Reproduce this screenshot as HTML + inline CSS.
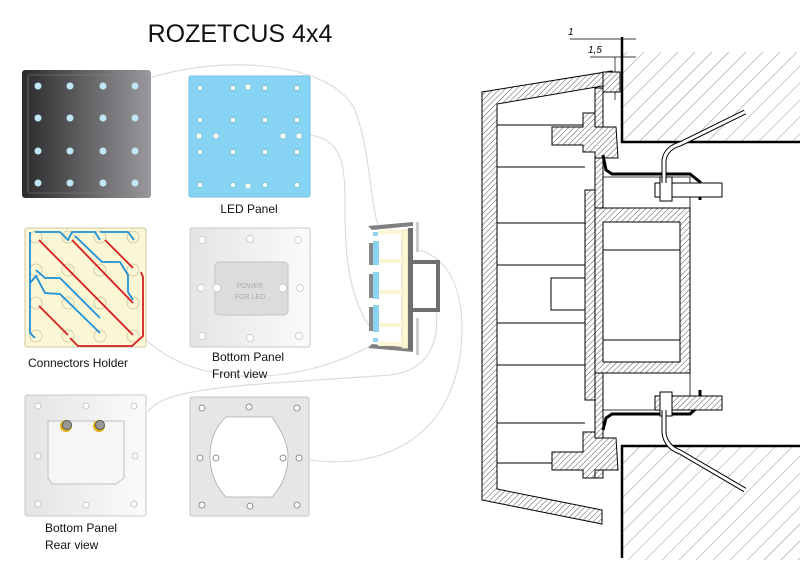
<!DOCTYPE html>
<html><head><meta charset="utf-8"><style>
html,body{margin:0;padding:0;background:#fff;}
svg{display:block;font-family:"Liberation Sans",Arial,sans-serif;}
</style></head><body>
<svg width="800" height="584" viewBox="0 0 800 584" xmlns="http://www.w3.org/2000/svg">
<defs>
<pattern id="h" width="4" height="4" patternUnits="userSpaceOnUse" patternTransform="rotate(45)">
<rect width="4" height="4" fill="#fff"/><line x1="0" y1="0" x2="0" y2="4" stroke="#555" stroke-width="1"/></pattern>
<pattern id="hw" width="12" height="12" patternUnits="userSpaceOnUse" patternTransform="rotate(45)">
<line x1="0" y1="0" x2="0" y2="12" stroke="#777" stroke-width="0.8"/></pattern>
<linearGradient id="dk" x1="0" x2="1"><stop offset="0" stop-color="#2b2b2d"/><stop offset="1" stop-color="#9a9a9e"/></linearGradient>
<linearGradient id="lg" x1="0" x2="1"><stop offset="0" stop-color="#e4e4e4"/><stop offset="1" stop-color="#fbfbfb"/></linearGradient>
</defs>

<text x="240" y="42" font-size="25" text-anchor="middle" fill="#111">ROZETCUS 4x4</text>

<!-- connector curves -->
<g fill="none" stroke="#dadada" stroke-width="1.1">
<path d="M150 78 C220 55 330 60 355 110 C370 150 370 200 378 225"/>
<path d="M310 135 C345 140 345 170 345 210 C345 260 350 300 372 330"/>
<path d="M146 340 C200 390 300 385 372 345"/>
<path d="M148 412 C165 385 260 385 390 375 C430 370 445 340 432 290"/>
<path d="M310 460 C380 470 460 440 462 330 C462 290 450 260 420 250"/>
</g>

<!-- dark panel -->
<rect x="22" y="70" width="129" height="128" rx="3" fill="url(#dk)"/>
<rect x="28" y="75" width="118" height="118" rx="2" fill="none" stroke="#888" stroke-width="0.6"/>
<g fill="#bfe6f7">
<circle cx="38" cy="86" r="3.5"/><circle cx="70" cy="86" r="3.5"/><circle cx="103" cy="86" r="3.5"/><circle cx="135" cy="86" r="3.5"/>
<circle cx="38" cy="118" r="3.5"/><circle cx="70" cy="118" r="3.5"/><circle cx="103" cy="118" r="3.5"/><circle cx="135" cy="118" r="3.5"/>
<circle cx="38" cy="151" r="3.5"/><circle cx="70" cy="151" r="3.5"/><circle cx="103" cy="151" r="3.5"/><circle cx="135" cy="151" r="3.5"/>
<circle cx="38" cy="183" r="3.5"/><circle cx="70" cy="183" r="3.5"/><circle cx="103" cy="183" r="3.5"/><circle cx="135" cy="183" r="3.5"/>
</g>

<!-- LED panel -->
<rect x="189" y="76" width="121" height="121" rx="2" fill="#87d3f3" stroke="#6cc0e6"/>
<g fill="#fff" stroke="#5aa" stroke-width="0.5">
<circle cx="200" cy="88" r="2.5"/><circle cx="233" cy="88" r="2.5"/><circle cx="248" cy="87" r="3"/><circle cx="265" cy="88" r="2.5"/><circle cx="297" cy="88" r="2.5"/>
<circle cx="200" cy="120" r="2.5"/><circle cx="233" cy="120" r="2.5"/><circle cx="265" cy="120" r="2.5"/><circle cx="297" cy="120" r="2.5"/>
<circle cx="199" cy="136" r="3"/><circle cx="216" cy="136" r="3"/><circle cx="283" cy="136" r="3"/><circle cx="299" cy="136" r="3"/>
<circle cx="200" cy="152" r="2.5"/><circle cx="233" cy="152" r="2.5"/><circle cx="265" cy="152" r="2.5"/><circle cx="297" cy="152" r="2.5"/>
<circle cx="200" cy="185" r="2.5"/><circle cx="233" cy="185" r="2.5"/><circle cx="248" cy="186" r="3"/><circle cx="265" cy="185" r="2.5"/><circle cx="297" cy="185" r="2.5"/>
</g>
<text x="249" y="213" font-size="12" text-anchor="middle" fill="#111">LED Panel</text>

<!-- Connectors holder -->
<rect x="25" y="228" width="121" height="119" rx="2" fill="#fbf6d3" stroke="#cfc9a5"/>
<g fill="none" stroke="#c9c2a0" stroke-width="0.8">
<circle cx="36" cy="237" r="6"/><circle cx="68" cy="237" r="6"/><circle cx="100" cy="237" r="6"/><circle cx="133" cy="237" r="6"/>
<circle cx="36" cy="270" r="6"/><circle cx="68" cy="270" r="6"/><circle cx="100" cy="270" r="6"/><circle cx="133" cy="270" r="6"/>
<circle cx="36" cy="303" r="6"/><circle cx="68" cy="303" r="6"/><circle cx="100" cy="303" r="6"/><circle cx="133" cy="303" r="6"/>
<circle cx="36" cy="336" r="6"/><circle cx="68" cy="336" r="6"/><circle cx="100" cy="336" r="6"/><circle cx="133" cy="336" r="6"/>
</g>
<g fill="none" stroke-width="1.8">
<path d="M39 240 L133 335 M72 240 L133 303 M105 240 L133 268 M141 272 L143 277 L143 336 L132 346 L78 346 L70 338 M39 306 L68 335" stroke="#d42020"/>
<path d="M30 232 L30 333 L35 338 M35 232 L60 232 L68 240 L72 232 L95 232 L100 240 M100 232 L128 232 L134 240 M75 236 L102 262 L120 262 L128 275 L128 292 L133 300 M30 283 L36 276 L45 293 L60 294 L100 333 M36 270 L45 278 L60 278 L100 318" stroke="#1f90d8"/>
</g>
<text x="28" y="367" font-size="12" fill="#111">Connectors Holder</text>

<!-- Bottom panel front -->
<rect x="190" y="228" width="120" height="119" rx="2" fill="url(#lg)" stroke="#c8c8c8"/>
<rect x="215" y="262" width="73" height="53" rx="4" fill="#dcdcdc" stroke="#c4c4c4"/>
<g fill="#fff" stroke="#c4c4c4" stroke-width="0.8">
<circle cx="202" cy="240" r="3.5"/><circle cx="250" cy="239" r="3.5"/><circle cx="298" cy="240" r="3.5"/>
<circle cx="201" cy="288" r="3.5"/><circle cx="217" cy="288" r="4"/><circle cx="283" cy="288" r="4"/><circle cx="300" cy="288" r="3.5"/>
<circle cx="202" cy="336" r="3.5"/><circle cx="250" cy="338" r="3.5"/><circle cx="299" cy="336" r="3.5"/>
</g>
<text x="250" y="288" font-size="7" text-anchor="middle" fill="#aaa">POWER</text>
<text x="250" y="299" font-size="7" text-anchor="middle" fill="#aaa">FOR LED</text>
<text x="212" y="361" font-size="12" fill="#111">Bottom Panel</text>
<text x="212" y="378" font-size="12" fill="#111">Front view</text>

<!-- Bottom panel rear -->
<rect x="25" y="395" width="121" height="121" rx="2" fill="url(#lg)" stroke="#c8c8c8"/>
<path d="M48 421 L124 421 L124 478 L116 484 L52 484 L48 478 Z" fill="#f6f6f6" stroke="#c0c0c0"/>
<g fill="#fff" stroke="#bbb" stroke-width="0.8">
<circle cx="38" cy="406" r="3"/><circle cx="86" cy="406" r="3"/><circle cx="134" cy="406" r="3"/>
<circle cx="38" cy="456" r="3"/><circle cx="135" cy="456" r="3"/>
<circle cx="38" cy="504" r="3"/><circle cx="86" cy="505" r="3"/><circle cx="134" cy="504" r="3"/>
</g>
<circle cx="66" cy="426" r="6" fill="#e2b21b"/><circle cx="67" cy="425" r="4.5" fill="#999" stroke="#555"/>
<circle cx="99" cy="426" r="6" fill="#e2b21b"/><circle cx="100" cy="425" r="4.5" fill="#999" stroke="#555"/>
<text x="45" y="532" font-size="12" fill="#111">Bottom Panel</text>
<text x="45" y="549" font-size="12" fill="#111">Rear view</text>

<!-- plate right -->
<rect x="190" y="397" width="119" height="119" rx="2" fill="#e6e6e6" stroke="#c4c4c4"/>
<path d="M226 417 L272 417 Q288 440 288 456 Q288 480 272 497 L226 497 Q210 480 210 456 Q210 432 226 417 Z" fill="#fff" stroke="#aaa" stroke-width="0.8"/>
<g fill="#fff" stroke="#777" stroke-width="0.8">
<circle cx="202" cy="408" r="3"/><circle cx="297" cy="408" r="3"/><circle cx="202" cy="505" r="3"/><circle cx="297" cy="505" r="3"/>
<circle cx="249" cy="407" r="3"/><circle cx="250" cy="506" r="3"/><circle cx="216" cy="458" r="3"/><circle cx="283" cy="458" r="3"/>
<circle cx="200" cy="458" r="3"/><circle cx="299" cy="458" r="3"/>
</g>

<!-- middle assembly -->
<g>
<path d="M368 226 L413 222 L413 226 L372 230 Z" fill="#808080"/>
<path d="M368 348 L413 352 L413 348 L372 344 Z" fill="#808080"/>
<rect x="402" y="230" width="6" height="118" fill="#fbf6d3" stroke="#e6dfb0"/>
<g fill="#fbf6d3"><rect x="378" y="230" width="24" height="4"/><rect x="378" y="259" width="24" height="4"/><rect x="378" y="290" width="24" height="4"/><rect x="378" y="323" width="24" height="4"/><rect x="378" y="342" width="24" height="4"/></g>
<g fill="#8ed3f0"><rect x="373" y="232" width="5" height="4"/><rect x="373" y="241" width="6" height="24"/><rect x="373" y="272" width="6" height="27"/><rect x="373" y="305" width="6" height="27"/><rect x="373" y="338" width="5" height="4"/></g>
<g fill="#888"><rect x="369" y="243" width="4" height="22"/><rect x="369" y="274" width="4" height="24"/><rect x="369" y="307" width="4" height="24"/></g>
<path d="M408 228 L413 228 L413 260 L440 260 L440 312 L413 312 L413 350 L408 350 Z" fill="#6f6f6f"/>
<rect x="413" y="264" width="23" height="44" fill="#fff"/>
<rect x="416" y="222" width="3" height="30" fill="#ccc"/><rect x="416" y="318" width="3" height="37" fill="#ccc"/>
</g>

<!-- right technical drawing -->
<g stroke="#000" stroke-width="1" fill="none">
<path d="M622 52 L800 52 L800 142 L622 142 Z" fill="url(#hw)" stroke="none"/>
<path d="M622 446 L800 446 L800 560 L622 560 Z" fill="url(#hw)" stroke="none"/>
<path d="M622 37 L622 142 L800 142" stroke-width="2.5"/>
<path d="M800 446 L622 446 L622 558" stroke-width="2.5"/>
<path d="M570 39 L622 39 M590 57 L622 57 M622 39 L636 39 M622 57 L636 57 M615 57 L615 100" stroke-width="0.7"/>
<text x="568" y="35" font-size="10" font-style="italic" fill="#000" stroke="none">1</text>
<text x="588" y="53" font-size="10" font-style="italic" fill="#000" stroke="none">1,5</text>
<path d="M482 92 L612 71 L614 84 L497 104 L497 489 L602 510 L602 524 L482 500 Z" fill="url(#h)"/>
<path d="M497 125 L585 125 M497 167 L585 167 M497 223 L585 223 M497 265 L585 265 M497 323 L585 323 M497 365 L585 365 M497 423 L585 423 M497 463 L585 463"/>
<rect x="551" y="278" width="34" height="32" fill="#fff"/>
<path d="M595 88 L603 88 L603 478 L595 478 Z" fill="url(#h)"/>
<path d="M603 72 L620 72 L620 92 L603 92 Z" fill="url(#h)"/>
<path d="M585 190 L595 190 L595 400 L585 400 Z" fill="url(#h)"/>
<path d="M583 113 L595 113 L595 127 L616 127 L618 158 L595 158 L595 152 L583 152 L583 145 L552 145 L552 127 L583 127 Z" fill="url(#h)"/>
<path d="M583 432 L595 432 L595 438 L616 438 L618 470 L595 470 L595 478 L583 478 L583 470 L552 470 L552 452 L583 452 Z" fill="url(#h)"/>
<path d="M595 208 L690 208 L690 373 L595 373 Z M603 222 L680 222 L680 362 L603 362 Z" fill="url(#h)" fill-rule="evenodd"/>
<path d="M603 250 L680 250 M603 340 L680 340"/>
<path d="M603 155 L606 170 L612 174 L690 174 L700 182 L700 200" stroke-width="3"/>
<path d="M603 430 L606 418 L612 414 L690 414 L700 405 L700 390" stroke-width="3"/>
<path d="M603 177 L690 177 L690 208 M603 410 L690 410 L690 373" stroke-width="0.8"/>
<rect x="655" y="183" width="67" height="14" fill="#fff"/>
<rect x="660" y="177" width="12" height="24" fill="#fff"/>
<rect x="655" y="396" width="67" height="14" fill="url(#h)"/>
<rect x="660" y="392" width="12" height="24" fill="#fff"/>
<path d="M664 183 L664 160 Q666 148 680 144 L745 112" stroke-width="5" stroke="#000"/>
<path d="M664 183 L664 160 Q666 148 680 144 L745 112" stroke-width="3" stroke="#fff"/>
<path d="M664 410 L664 433 Q666 447 680 452 L745 490" stroke-width="5" stroke="#000"/>
<path d="M664 410 L664 433 Q666 447 680 452 L745 490" stroke-width="3" stroke="#fff"/>
</g>
</svg>
</body></html>
